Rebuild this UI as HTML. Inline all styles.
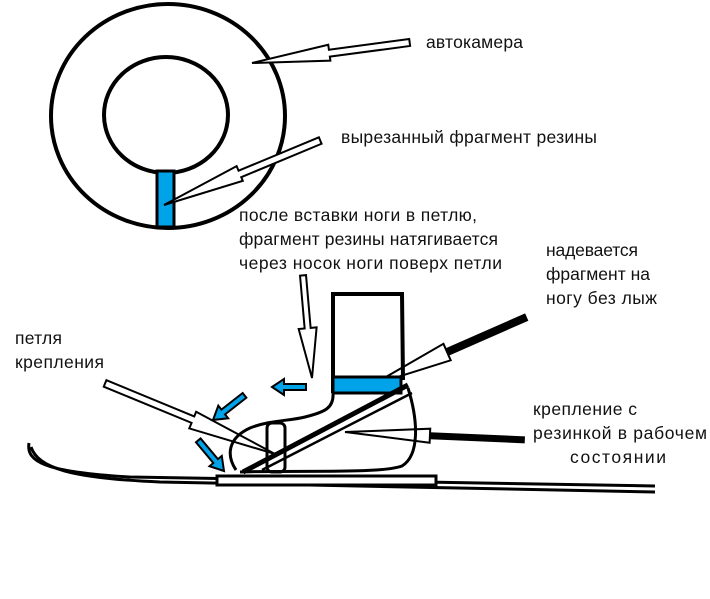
<!DOCTYPE html>
<html><head><meta charset="utf-8"><style>
html,body{margin:0;padding:0;background:#fff;}
svg{display:block;}
text{font-family:"Liberation Sans","DejaVu Sans",sans-serif;font-size:17.5px;fill:#111;}
</style></head><body>
<svg width="710" height="599" viewBox="0 0 710 599" xmlns="http://www.w3.org/2000/svg">
<ellipse cx="168" cy="116" rx="117" ry="112" fill="none" stroke="#000" stroke-width="4"/>
<ellipse cx="166" cy="115" rx="62" ry="58" fill="none" stroke="#000" stroke-width="4"/>
<rect x="157" y="171" width="17" height="56" fill="#00a2e8" stroke="#000" stroke-width="3"/>

<g fill="#fff" stroke="#000" stroke-width="2" stroke-linejoin="miter">
 <g transform="translate(252,63) rotate(-7.6)"><polygon points="0,0 78,-8 78,-3 159,-3 159,4 78,4 78,8"/></g>
 <g transform="translate(164,205) rotate(-22.6)"><polygon points="0,0 82,-8 82,-3 169,-3 169,4 82,4 82,8"/></g>
 <g transform="translate(312,378) rotate(-95)"><polygon points="0,0 50,-9 50,-3 103,-3 103,3 50,3 50,9"/></g>
 <g transform="translate(275,454) rotate(202.4)"><polygon points="0,0 89,-9 89,-3 184,-3 184,4 89,4 89,9"/></g>
 <g transform="translate(372,385) rotate(-23.7)"><polygon points="0,0 82,-9 82,-3 82,3 82,9"/><line x1="82" y1="0" x2="169" y2="0" stroke-width="8"/></g>
 <g transform="translate(345,432) rotate(2.5)"><polygon points="0,0 85,-7 85,7"/><line x1="85" y1="0" x2="180" y2="0" stroke-width="7"/></g>
</g>

<path d="M29,443 C26,462 45,472 130,477 L655,486" fill="none" stroke="#000" stroke-width="3"/>
<path d="M31,447 C38,468 70,478 160,482 L655,492" fill="none" stroke="#000" stroke-width="3"/>
<rect x="217" y="476" width="219" height="9" fill="#fff" stroke="#000" stroke-width="3"/>

<path d="M333,294 L333,393 M331,294 L402,294 L403,380" fill="none" stroke="#000" stroke-width="4"/>
<path d="M333,393 C334,408 325,412 305,417 C290,421 270,420 250,428 C228,438 226,455 236,470" fill="none" stroke="#000" stroke-width="3"/>
<path d="M240,472 C300,470 380,474 402,466 C420,455 418,420 408,388" fill="none" stroke="#000" stroke-width="3"/>
<rect x="333" y="377" width="68" height="16" fill="#00a2e8" stroke="#000" stroke-width="3"/>
<rect x="267" y="423" width="18" height="49" rx="5" fill="none" stroke="#000" stroke-width="3"/>
<line x1="243" y1="472" x2="408" y2="385" stroke="#000" stroke-width="5"/>
<line x1="262" y1="470" x2="412" y2="393" stroke="#000" stroke-width="2.5"/>

<g fill="#00a2e8" stroke="#000" stroke-width="2">
 <g transform="translate(272,387)"><polygon points="0,0 12,-8 12,-3 34,-3 34,3 12,3 12,8"/></g>
 <g transform="translate(213,420) rotate(-38)"><polygon points="0,0 13,-8 13,-3 40,-3 40,3 13,3 13,8"/></g>
 <g transform="translate(224,471) rotate(-130)"><polygon points="0,0 13,-8 13,-3 40,-3 40,3 13,3 13,8"/></g>
</g>

<text x="426" y="48" textLength="97">автокамера</text>
<text x="341" y="143" textLength="256">вырезанный фрагмент резины</text>
<text x="239" y="221" textLength="238">после вставки ноги в петлю,</text>
<text x="239" y="245" textLength="259">фрагмент резины натягивается</text>
<text x="239" y="269" textLength="263">через носок ноги поверх петли</text>
<text x="546" y="256" textLength="92">надевается</text>
<text x="546" y="280" textLength="104">фрагмент на</text>
<text x="546" y="304" textLength="111">ногу без лыж</text>
<text x="15" y="344" textLength="47">петля</text>
<text x="15" y="368" textLength="89">крепления</text>
<text x="533" y="415" textLength="104">крепление с</text>
<text x="533" y="439" textLength="174">резинкой в рабочем</text>
<text x="570" y="463" textLength="96">состоянии</text>
</svg>
</body></html>
